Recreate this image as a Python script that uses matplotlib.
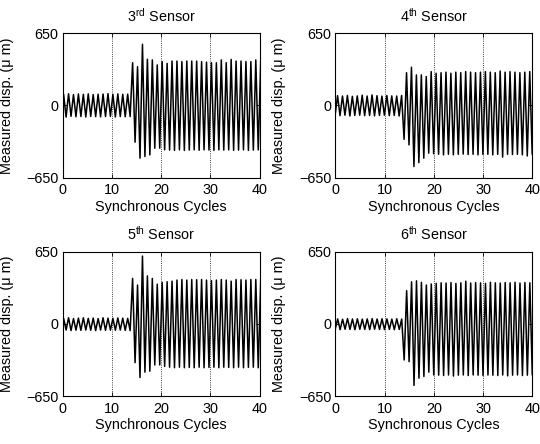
import numpy as np
import matplotlib
matplotlib.use("Agg")
import matplotlib.pyplot as plt

plt.rcParams['font.family'] = ['Liberation Sans', 'DejaVu Sans']
plt.rcParams['mathtext.fontset'] = 'custom'
plt.rcParams['mathtext.rm'] = 'Liberation Sans'
plt.rcParams['mathtext.it'] = 'Liberation Sans'

titles = [r'3$^{\mathrm{rd}}$ Sensor', r'4$^{\mathrm{th}}$ Sensor',
          r'5$^{\mathrm{th}}$ Sensor', r'6$^{\mathrm{th}}$ Sensor']
xticks = [0, 10, 20, 30, 40]
yticks = [-650, 0, 650]
xlabel = 'Synchronous Cycles'
ylabel = 'Measured disp. (\u03bc m)'

# per-cycle phase of the positive peak (cycles)
phase = [0.2, 0.45, 0.2, 0.47]

# trough (preceding half cycle) and peak of each synchronous cycle, cycles 0..40
s3_trough = [-100, -105, -98, -102, -100, -104, -99, -101, -103, -100, -98, -104, -100, -102,
             -100, -331, -475, -460, -446, -385, -385, -400, -402, -405, -400, -405, -402, -400,
             -404, -400, -402, -405, -400, -402, -400, -404, -402, -400, -405, -402, -400]
s3_peak = [100, 105, 98, 103, 100, 104, 98, 101, 103, 106, 100, 104, 100, 102,
           385, 349, 551, 416, 410, 365, 395, 379, 400, 400, 395, 400, 400, 400,
           395, 390, 385, 385, 410, 385, 415, 400, 400, 395, 395, 410, 400]

s4_trough = [-90, -92, -88, -95, -90, -88, -92, -90, -94, -90, -88, -92, -90, -95,
             -305, -355, -550, -515, -475, -430, -435, -440, -445, -440, -445, -440, -438,
             -442, -440, -445, -440, -440, -445, -440, -465, -440, -442, -440, -445, -455, -440]
s4_peak = [88, 85, 90, 82, 86, 92, 85, 95, 88, 84, 90, 86, 85, 90,
           295, 344, 275, 275, 260, 305, 290, 295, 300, 290, 300, 295, 305, 300,
           295, 300, 305, 300, 295, 310, 300, 305, 300, 295, 300, 305, 300]

s5_trough = [-58, -55, -60, -56, -58, -55, -57, -60, -55, -58, -56, -57, -55, -58,
             -60, -349, -483, -435, -426, -370, -370, -383, -390, -395, -390, -395, -392,
             -395, -390, -395, -392, -390, -395, -390, -392, -395, -390, -395, -392, -390, -395]
s5_peak = [50, 55, 48, 52, 55, 50, 53, 48, 55, 52, 50, 54, 52, 50,
           410, 350, 611, 433, 410, 358, 374, 380, 385, 395, 400, 395, 400, 398,
           400, 395, 390, 395, 400, 395, 385, 400, 398, 395, 400, 400, 398]

s6_trough = [-50, -52, -48, -50, -52, -49, -50, -52, -48, -50, -51, -50, -52, -50,
             -325, -340, -554, -489, -474, -435, -460, -462, -465, -460, -470, -462, -460,
             -465, -460, -462, -465, -460, -462, -465, -460, -468, -462, -460, -465, -462, -460]
s6_peak = [45, 42, 48, 44, 46, 43, 45, 47, 44, 46, 45, 43, 46, 44,
           299, 379, 388, 374, 350, 360, 365, 370, 368, 372, 365, 370, 385, 368,
           372, 370, 365, 375, 370, 368, 372, 370, 375, 368, 372, 370, 368]

series = [(s3_trough, s3_peak), (s4_trough, s4_peak),
          (s5_trough, s5_peak), (s6_trough, s6_peak)]

fig = plt.figure(figsize=(5.4, 4.44), dpi=100)
lefts = [0.116, 0.621]
bottoms = [0.600, 0.108]
w, h = 0.365, 0.325
fs = 10.4

for i, (tr, pk) in enumerate(series):
    r, c = divmod(i, 2)
    ax = fig.add_axes([lefts[c], bottoms[r], w, h])
    cyc = np.arange(len(pk))
    t = np.empty(2 * len(pk))
    v = np.empty(2 * len(pk))
    t[0::2] = cyc + phase[i] - 0.5
    t[1::2] = cyc + phase[i]
    v[0::2] = tr
    v[1::2] = pk
    ax.plot(t, v, color='black', lw=1.1)
    ax.set_xlim(0, 40)
    ax.set_ylim(-650, 650)
    ax.set_xticks(xticks)
    ax.set_yticks(yticks)
    ax.tick_params(direction='in', top=True, right=True, labelsize=fs, length=3, width=0.6)
    ax.tick_params(axis='x', pad=4)
    ax.tick_params(axis='y', pad=3)
    ax.xaxis.grid(True, linestyle=':', color='black', lw=0.6)
    for s in ax.spines.values():
        s.set_linewidth(0.8)
    ax.set_title(titles[i], fontsize=fs, pad=8.5)
    ax.set_xlabel(xlabel, fontsize=fs, labelpad=2)
    ax.set_ylabel(ylabel, fontsize=fs, labelpad=9)

fig.savefig('out.png', dpi=100)
